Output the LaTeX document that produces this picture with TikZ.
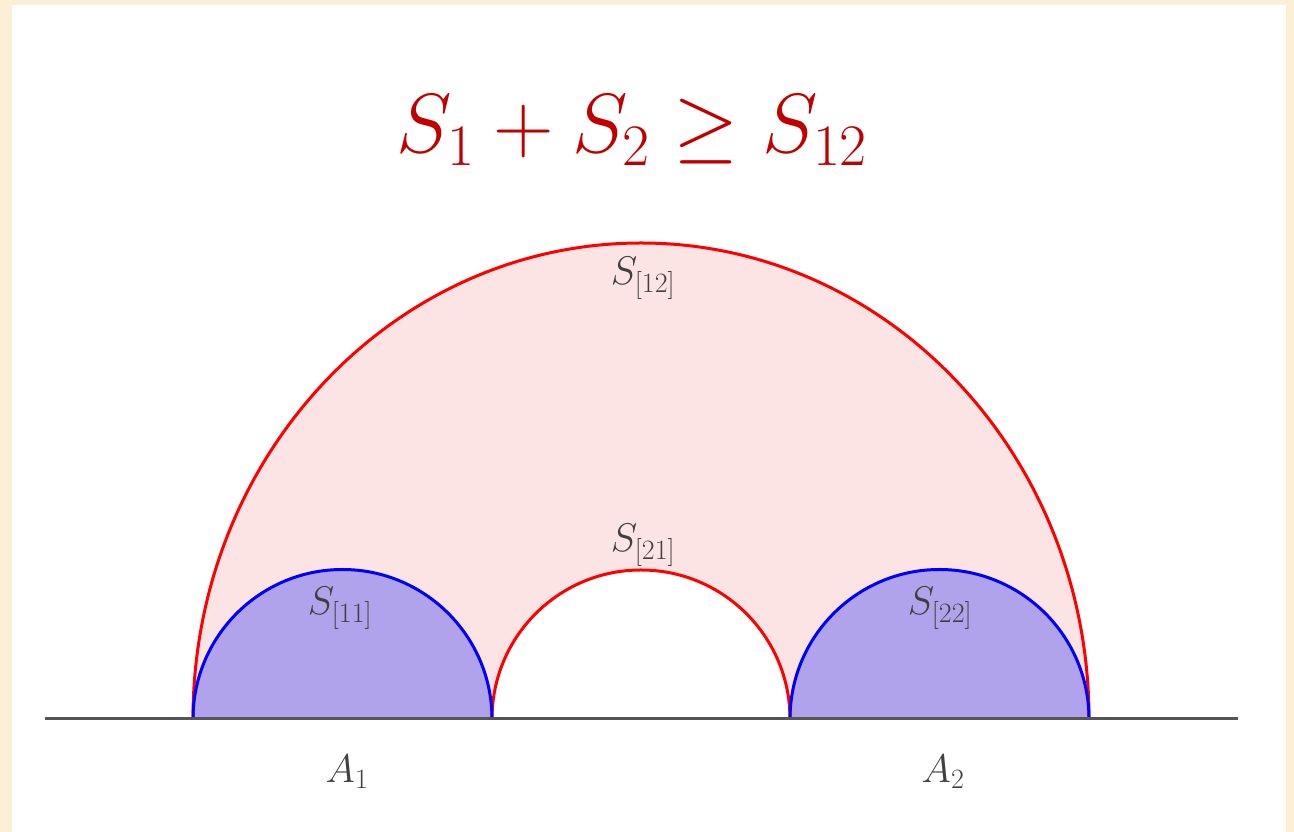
\RequirePackage{fix-cm}
\documentclass[tikz,border=0pt]{standalone}
\usepackage{amssymb}
\definecolor{cream}{HTML}{FBEFD6}
\definecolor{pinkfill}{HTML}{FDE4E4}
\definecolor{bluefill}{HTML}{B0A2EB}
\definecolor{titlered}{HTML}{C00000}
\definecolor{labelgray}{HTML}{404040}
\definecolor{axisgray}{HTML}{555555}
\tikzset{
  redarc/.style={draw=red, line width=3pt},
  bluearc/.style={draw=blue, line width=3pt},
  lab/.style={anchor=base, text=labelgray, inner sep=0pt, font=\fontsize{40}{48}\selectfont},
}
\begin{document}
\begin{tikzpicture}[x=1pt,y=1pt]
\useasboundingbox (0,0) rectangle (1294,832);
\fill[cream] (0,0) rectangle (1294,832);
\fill[white] (12,0) rectangle (1286,827);
% regions
\fill[pinkfill] (193,113) arc[start angle=180,end angle=0,x radius=448,y radius=476] -- cycle;
\fill[white] (492,113) arc[start angle=180,end angle=0,radius=149] -- cycle;
\fill[bluefill] (193,113) arc[start angle=180,end angle=0,radius=149.5] -- cycle;
\fill[bluefill] (790,113) arc[start angle=180,end angle=0,radius=149.5] -- cycle;
% boundaries
\draw[redarc] (193,113) arc[start angle=180,end angle=0,x radius=448,y radius=476];
\draw[redarc] (492,113) arc[start angle=180,end angle=0,radius=149];
\draw[bluearc] (193,113) arc[start angle=180,end angle=0,radius=149.5];
\draw[bluearc] (790,113) arc[start angle=180,end angle=0,radius=149.5];
% axis
\coordinate (axl) at (45,113);
\coordinate (axr) at (1238,113);
\draw[axisgray, line width=3pt] (axl) -- (axr);
% labels
\node[lab] (s12) at (643,547) {$S_{[12]}$};
\node[lab] (s21) at (643,280) {$S_{[21]}$};
\node[lab] (s11) at (340,217) {$S_{[11]}$};
\node[lab] (s22) at (940,217) {$S_{[22]}$};
\node[lab] (a1) at (347,49) {$A_1$};
\node[lab] (a2) at (943,49) {$A_2$};
% title
\node[anchor=base, text=titlered, inner sep=0pt, font=\fontsize{84}{96}\selectfont] (title) at (632,679) {$S_1+S_2\geq S_{12}$};
\end{tikzpicture}
\end{document}
